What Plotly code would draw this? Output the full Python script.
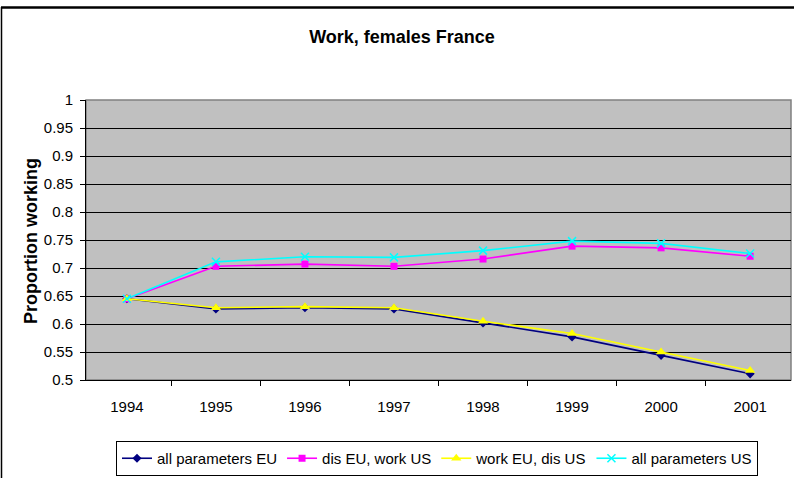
import plotly.graph_objects as go

years = ["1994", "1995", "1996", "1997", "1998", "1999", "2000", "2001"]
all_params_eu = [0.645, 0.627, 0.629, 0.627, 0.602, 0.577, 0.544, 0.511]
dis_eu_work_us = [0.645, 0.703, 0.707, 0.703, 0.716, 0.739, 0.736, 0.721]
work_eu_dis_us = [0.645, 0.629, 0.631, 0.629, 0.605, 0.583, 0.550, 0.517]
all_params_us = [0.645, 0.711, 0.720, 0.719, 0.731, 0.748, 0.744, 0.726]

series_names = ["all parameters EU", "dis EU, work US", "work EU, dis US", "all parameters US"]
title_text = "Work, females France"
y_title = "Proportion working"

FONT = "Liberation Sans, Arial, sans-serif"

W, H = 794, 478
L, R, T, B = 86, 3, 100, 98
pw, ph = W - L - R, H - T - B

def px_x(px):
    return (px - L) / pw

def px_y(py):
    return (H - B - py) / ph

fig = go.Figure()
styles = [
    (all_params_eu, "#000080", "diamond", 7),
    (dis_eu_work_us, "#FF00FF", "square", 7),
    (work_eu_dis_us, "#FFFF00", "triangle-up", 9),
    (all_params_us, "#00FFFF", "x-thin", 8),
]
for (vals, col, sym, size), name in zip(styles, series_names):
    marker = dict(symbol=sym, size=size, color=col)
    if sym == "x-thin":
        marker["line"] = dict(color=col, width=1.5)
    fig.add_trace(go.Scatter(
        x=years, y=vals, name=name, mode="lines+markers",
        line=dict(color=col, width=1.6), marker=marker,
    ))

fig.update_layout(
    width=W, height=H,
    margin=dict(l=L, r=R, t=T, b=B, autoexpand=False),
    paper_bgcolor="white",
    plot_bgcolor="#C0C0C0",
    font=dict(family=FONT, size=15, color="black"),
    title=dict(text=f"<b>{title_text}</b>", x=402 / W, xanchor="center",
               y=1 - 37 / H, yanchor="middle", font=dict(size=18, family=FONT)),
    showlegend=True,
    legend=dict(orientation="h", x=px_x(437), xanchor="center",
                y=px_y(441), yanchor="top",
                bordercolor="black", borderwidth=1, bgcolor="white",
                font=dict(size=15, family=FONT), itemwidth=30,
                tracegroupgap=0),
    xaxis=dict(type="category", tickson="boundaries", ticks="outside",
               ticklen=5, tickcolor="black", showline=True, linecolor="black",
               linewidth=1, showgrid=False, zeroline=False, mirror=False,
               tickfont=dict(size=15), ticklabelstandoff=13, fixedrange=True),
    yaxis=dict(range=[0.5, 1.0], dtick=0.05, tick0=0.5, ticks="outside",
               ticklen=5, tickcolor="black", showline=True, linecolor="black",
               linewidth=1, showgrid=True, gridcolor="black", gridwidth=1,
               zeroline=False, tickfont=dict(size=15), ticklabelstandoff=4,
               fixedrange=True),
)

# plot area border (gray)
fig.add_shape(type="rect", xref="paper", yref="paper", x0=0, x1=1, y0=0, y1=1,
              line=dict(color="#808080", width=1.5), layer="below")
# outer chart frame: top and left edges (right/bottom lie outside the picture)
fig.add_shape(type="path", xref="paper", yref="paper",
              path=f"M {px_x(1)},{px_y(7.5)} L {px_x(794)},{px_y(7.5)}",
              line=dict(color="black", width=2.5), layer="above")
fig.add_shape(type="line", xref="paper", yref="paper",
              x0=px_x(1.5), x1=px_x(1.5), y0=px_y(7), y1=px_y(478),
              line=dict(color="black", width=1.5), layer="above")

fig.add_annotation(text=f"<b>{y_title}</b>", textangle=-90, xref="paper", yref="paper",
                   x=px_x(31), y=px_y(241), xanchor="center", yanchor="middle",
                   showarrow=False, font=dict(size=18, family=FONT))

fig.write_html("out.html", config={"displayModeBar": False},
               post_script="document.body.style.margin='0px';document.body.style.overflow='hidden';window.scrollTo(0,0);")
